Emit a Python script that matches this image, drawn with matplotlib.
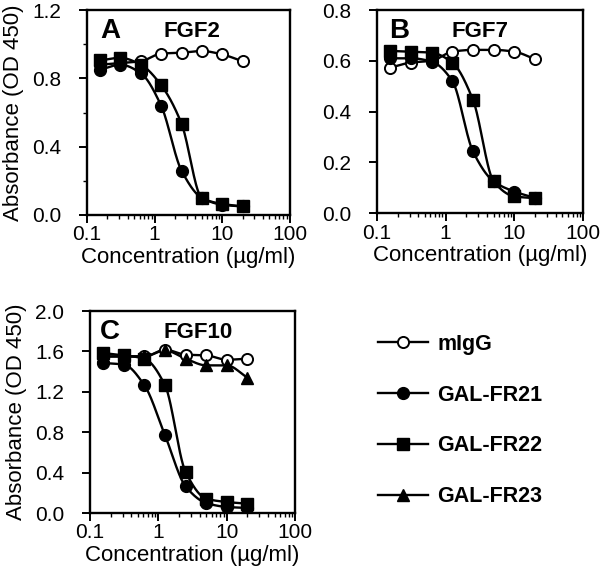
import numpy as np
import matplotlib
matplotlib.use("Agg")
import matplotlib.pyplot as plt
from matplotlib.lines import Line2D
from matplotlib.ticker import LogLocator, NullFormatter, FixedLocator

plt.rcParams['font.family'] = ['Liberation Sans', 'DejaVu Sans']

conc = [0.156, 0.3125, 0.625, 1.25, 2.5, 5, 10, 20]

# Panel A: FGF2
a_migg = [0.88, 0.89, 0.90, 0.945, 0.95, 0.96, 0.94, 0.90]
a_fr21 = [0.85, 0.88, 0.83, 0.64, 0.26, 0.10, 0.06, 0.05]
a_fr22 = [0.905, 0.92, 0.88, 0.76, 0.535, 0.10, 0.065, 0.05]

# Panel B: FGF7
b_migg = [0.573, 0.593, 0.60, 0.636, 0.643, 0.643, 0.636, 0.606]
b_fr21 = [0.61, 0.61, 0.597, 0.521, 0.243, 0.125, 0.085, 0.06]
b_fr22 = [0.639, 0.636, 0.632, 0.593, 0.446, 0.125, 0.066, 0.059]

# Panel C: FGF10
c_migg = [1.55, 1.55, 1.55, 1.617, 1.568, 1.561, 1.518, 1.528]
c_fr21 = [1.485, 1.47, 1.264, 0.769, 0.264, 0.099, 0.06, 0.05]
c_fr22 = [1.584, 1.561, 1.528, 1.264, 0.406, 0.142, 0.109, 0.092]
c_fr23 = [1.55, 1.55, 1.55, 1.61, 1.528, 1.462, 1.462, 1.34]

series_names = ["mIgG", "GAL-FR21", "GAL-FR22", "GAL-FR23"]
panel_letters = ["A", "B", "C"]
panel_titles = ["FGF2", "FGF7", "FGF10"]


def pchip(x, y, xn):
    x = np.asarray(x, float); y = np.asarray(y, float)
    h = np.diff(x); d = np.diff(y) / h
    n = len(x); m = np.zeros(n)
    for k in range(1, n - 1):
        if d[k - 1] * d[k] > 0:
            w1 = 2 * h[k] + h[k - 1]; w2 = h[k] + 2 * h[k - 1]
            m[k] = (w1 + w2) / (w1 / d[k - 1] + w2 / d[k])
    m[0] = d[0]; m[-1] = d[-1]
    idx = np.clip(np.searchsorted(x, xn) - 1, 0, n - 2)
    t = (xn - x[idx]) / h[idx]
    h00 = 2 * t**3 - 3 * t**2 + 1; h10 = t**3 - 2 * t**2 + t
    h01 = -2 * t**3 + 3 * t**2; h11 = t**3 - t**2
    return h00 * y[idx] + h10 * h[idx] * m[idx] + h01 * y[idx + 1] + h11 * h[idx] * m[idx + 1]


styles = {
    "mIgG": dict(marker='o', mfc='white', mec='black', ms=8, mew=1.4),
    "GAL-FR21": dict(marker='o', mfc='black', mec='black', ms=8.5),
    "GAL-FR22": dict(marker='s', mfc='black', mec='black', ms=8),
    "GAL-FR23": dict(marker='^', mfc='black', mec='black', ms=8.5),
}


def draw(ax, data):
    lx = np.log10(conc)
    xs = np.linspace(lx[0], lx[-1], 200)
    for name, vals in data:
        ys = pchip(lx, vals, xs)
        ax.plot(10**xs, ys, color='black', lw=1.7, zorder=2)
        ax.plot(conc, vals, ls='none', zorder=3, **styles[name])


fig = plt.figure(figsize=(6.0, 5.73), dpi=100)
axA = fig.add_axes([0.145, 0.6248, 0.338, 0.3577])
axB = fig.add_axes([0.628, 0.628, 0.344, 0.3545])
axC = fig.add_axes([0.150, 0.1047, 0.342, 0.3525])

draw(axA, [("mIgG", a_migg), ("GAL-FR21", a_fr21), ("GAL-FR22", a_fr22)])
draw(axB, [("mIgG", b_migg), ("GAL-FR21", b_fr21), ("GAL-FR22", b_fr22)])
draw(axC, [("mIgG", c_migg), ("GAL-FR23", c_fr23), ("GAL-FR21", c_fr21), ("GAL-FR22", c_fr22)])

ylims = [(0, 1.2), (0, 0.8), (0, 2.0)]
ymajor = [[0, 0.4, 0.8, 1.2], [0, 0.2, 0.4, 0.6, 0.8], [0, 0.4, 0.8, 1.2, 1.6, 2.0]]
yminor = [[0.2, 0.6, 1.0], [], []]
letter_x = [0.064, 0.058, 0.05]
title_x = [0.375, 0.364, 0.356]
for i, ax in enumerate([axA, axB, axC]):
    ax.set_xscale('log')
    ax.set_xlim(0.1, 100)
    ax.set_ylim(*ylims[i])
    ax.set_xticks([0.1, 1, 10, 100])
    ax.set_xticklabels(['0.1', '1', '10', '100'])
    ax.xaxis.set_minor_locator(LogLocator(base=10, subs=np.arange(2, 10)))
    ax.xaxis.set_minor_formatter(NullFormatter())
    ax.set_yticks(ymajor[i])
    ax.set_yticklabels(['%.1f' % v for v in ymajor[i]])
    ax.yaxis.set_minor_locator(FixedLocator(yminor[i]))
    for s in ax.spines.values():
        s.set_linewidth(1.7)
    ax.tick_params(which='major', direction='out', length=5.5, width=1.4, labelsize=15)
    ax.tick_params(which='minor', direction='out', length=3, width=1.0)
    ax.tick_params(axis='x', which='major', pad=2)
    ax.tick_params(axis='y', which='major', pad=13)
    ax.set_xlabel('Concentration (µg/ml)', fontsize=16, labelpad=2)
    ax.text(letter_x[i], 0.96, panel_letters[i], transform=ax.transAxes, fontsize=20,
            fontweight='bold', va='top', ha='left')
    ax.text(title_x[i], 0.945, panel_titles[i], transform=ax.transAxes, fontsize=16,
            fontweight='bold', va='top', ha='left')

axA.set_ylabel('Absorbance (OD 450)', fontsize=16, labelpad=6)
axC.set_ylabel('Absorbance (OD 450)', fontsize=16, labelpad=6)

handles = [Line2D([], [], color='black', lw=1.7, **styles[n]) for n in series_names]
fig.legend(handles, series_names, loc='upper left', bbox_to_anchor=(0.598, 0.451),
           frameon=False, handlelength=2.3, labelspacing=1.38,
           prop={'weight': 'bold', 'size': 15.5}, handletextpad=0.45)

fig.savefig('out.png', dpi=100)
